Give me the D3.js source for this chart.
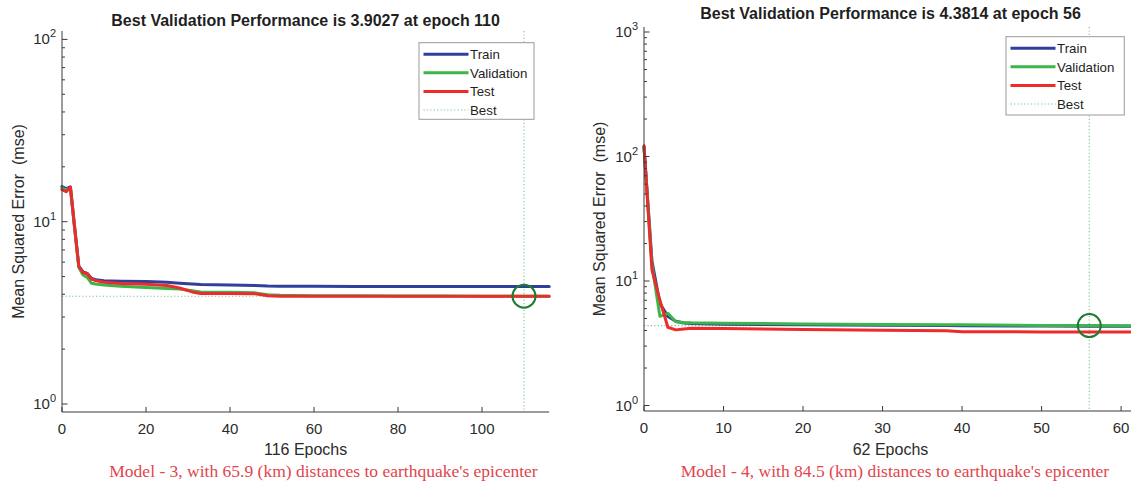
<!DOCTYPE html>
<html>
<head>
<meta charset="utf-8">
<script src="https://cdn.jsdelivr.net/npm/d3@7"></script>
<style>
  html, body { margin: 0; padding: 0; background: #ffffff; }
  svg { display: block; }
</style>
</head>
<body>
<svg id="chart" width="1131" height="485"></svg>
<script>
// ---- Model 3 training record (left panel) ----
const m3Epochs     = [0, 1, 2, 3, 4, 5, 6, 7, 8, 10, 14, 20, 25, 28, 31, 33, 40, 46, 49, 52, 60, 70, 80, 90, 100, 110, 116];
const m3Train      = [15.6, 15.2, 15.5, 9.4, 5.7, 5.3, 5.2, 4.9, 4.8, 4.75, 4.72, 4.7, 4.65, 4.6, 4.55, 4.52, 4.5, 4.47, 4.44, 4.43, 4.42, 4.41, 4.41, 4.41, 4.41, 4.41, 4.41];
const m3Validation = [15.3, 15.0, 15.3, 9.2, 5.6, 5.1, 4.95, 4.6, 4.55, 4.5, 4.42, 4.36, 4.3, 4.27, 4.18, 4.12, 4.1, 4.07, 3.98, 3.95, 3.93, 3.92, 3.91, 3.91, 3.905, 3.9027, 3.9027];
const m3Test       = [15.0, 14.6, 15.5, 9.3, 5.7, 5.25, 5.2, 4.85, 4.75, 4.65, 4.58, 4.54, 4.47, 4.33, 4.12, 4.04, 4.04, 4.03, 3.92, 3.9, 3.9, 3.9, 3.9, 3.9, 3.9, 3.9, 3.9];
const m3BestEpoch  = 110;
const m3BestValue  = 3.9027;
const m3TotalEpochs = 116;
const m3XTicks     = [0, 20, 40, 60, 80, 100];
const m3YDecades   = [1, 10, 100];

// ---- Model 4 training record (right panel) ----
const m4Epochs     = [0, 1, 2, 3, 4, 5, 6, 10, 20, 30, 38, 40, 50, 56, 62];
const m4Train      = [120, 14.5, 6.6, 5.2, 4.75, 4.6, 4.55, 4.5, 4.45, 4.42, 4.39, 4.38, 4.35, 4.34, 4.33];
const m4Validation = [118, 13.5, 5.2, 5.5, 4.7, 4.65, 4.62, 4.58, 4.52, 4.48, 4.46, 4.45, 4.4, 4.3814, 4.38];
const m4Test       = [122, 12.3, 7.0, 4.25, 4.05, 4.12, 4.18, 4.15, 4.08, 4.02, 3.99, 3.92, 3.9, 3.9, 3.9];
const m4BestEpoch  = 56;
const m4BestValue  = 4.3814;
const m4TotalEpochs = 62;
const m4XTicks     = [0, 10, 20, 30, 40, 50, 60];
const m4YDecades   = [1, 10, 100, 1000];

const legendNames  = ["Train", "Validation", "Test", "Best"];
const captions     = [
  "Model - 3, with 65.9 (km) distances to earthquake's epicenter",
  "Model - 4, with 84.5 (km) distances to earthquake's epicenter"
];

const COLORS = { Train: "#2f3f9c", Validation: "#3cb54a", Test: "#ee2b2b", Best: "#7cc487" };
const AXIS = "#3a3a3a";
const SANS = "'Liberation Sans', Arial, Helvetica, sans-serif";
const SERIF = "'Liberation Serif', 'Times New Roman', serif";

const svg = d3.select("#chart");

function drawPanel(p) {
  const g = svg.append("g");

  const x = d3.scaleLinear().domain([0, p.totalEpochs]).range([p.left, p.right]);
  const y = d3.scaleLog().domain([p.yDecades[0], p.yDecades[p.yDecades.length - 1]]).range([p.yLow, p.yHigh]);

  // best-performance guide lines (drawn under the curves)
  g.append("line")
    .attr("x1", x(0)).attr("x2", x(p.totalEpochs))
    .attr("y1", y(p.bestValue)).attr("y2", y(p.bestValue))
    .attr("stroke", COLORS.Best).attr("stroke-width", 1.1).attr("stroke-dasharray", "1.2,2.2");
  g.append("line")
    .attr("x1", x(p.bestEpoch)).attr("x2", x(p.bestEpoch))
    .attr("y1", p.top).attr("y2", p.bottom)
    .attr("stroke", COLORS.Best).attr("stroke-width", 1.1).attr("stroke-dasharray", "1.2,2.2");

  // performance curves
  const line = d3.line().x(d => x(d[0])).y(d => y(d[1]));
  [["Train", p.train], ["Validation", p.validation], ["Test", p.test]].forEach(([name, vals]) => {
    g.append("path")
      .datum(p.epochs.map((e, i) => [e, vals[i]]))
      .attr("d", line)
      .attr("fill", "none")
      .attr("stroke", COLORS[name])
      .attr("stroke-width", 3)
      .attr("stroke-linejoin", "round")
      .attr("stroke-linecap", "round");
  });

  // best point marker
  g.append("circle")
    .attr("cx", x(p.bestEpoch)).attr("cy", y(p.bestValue)).attr("r", 11.5)
    .attr("fill", "none").attr("stroke", "#1f7a33").attr("stroke-width", 2);

  // axis lines
  g.append("line").attr("x1", p.left).attr("x2", p.left).attr("y1", p.top).attr("y2", p.bottom)
    .attr("stroke", AXIS).attr("stroke-width", 1);
  g.append("line").attr("x1", p.left).attr("x2", p.right).attr("y1", p.bottom).attr("y2", p.bottom)
    .attr("stroke", AXIS).attr("stroke-width", 1);

  // x ticks (inward) and labels
  p.xTicks.forEach(t => {
    g.append("line").attr("x1", x(t)).attr("x2", x(t)).attr("y1", p.bottom).attr("y2", p.bottom - 5)
      .attr("stroke", AXIS).attr("stroke-width", 1);
    g.append("text").attr("x", x(t)).attr("y", p.bottom + 21.5)
      .attr("text-anchor", "middle").attr("font-family", SANS).attr("font-size", 15)
      .attr("fill", "#2b2b2b").text(t);
  });

  // y ticks: decades plus minor log ticks
  const minor = [];
  for (let i = 0; i < p.yDecades.length - 1; i++) {
    for (let k = 2; k <= 9; k++) minor.push(p.yDecades[i] * k);
  }
  minor.forEach(v => {
    g.append("line").attr("x1", p.left).attr("x2", p.left + 3).attr("y1", y(v)).attr("y2", y(v))
      .attr("stroke", AXIS).attr("stroke-width", 1);
  });
  p.yDecades.forEach(v => {
    g.append("line").attr("x1", p.left).attr("x2", p.left + 5.5).attr("y1", y(v)).attr("y2", y(v))
      .attr("stroke", AXIS).attr("stroke-width", 1);
    const exp = Math.round(Math.log10(v));
    const t = g.append("text").attr("x", p.left - 6).attr("y", y(v) + 5)
      .attr("text-anchor", "end").attr("font-family", SANS).attr("font-size", 15).attr("fill", "#2b2b2b");
    t.append("tspan").text("10");
    t.append("tspan").attr("dy", -7).attr("font-size", 11).text(exp);
  });

  // title
  g.append("text").attr("x", (p.left + p.right) / 2).attr("y", p.titleY)
    .attr("text-anchor", "middle").attr("font-family", SANS).attr("font-size", 16)
    .attr("font-weight", "bold").attr("fill", "#1f1f1f")
    .text(`Best Validation Performance is ${p.bestValue.toFixed(4)} at epoch ${p.bestEpoch}`);

  // axis labels
  g.append("text")
    .attr("transform", `translate(${p.yLabelX},${(p.top + p.bottom) / 2}) rotate(-90)`)
    .attr("text-anchor", "middle").attr("dy", "0.35em")
    .attr("font-family", SANS).attr("font-size", 16).attr("fill", "#2b2b2b")
    .attr("xml:space", "preserve").style("white-space", "pre")
    .text("Mean Squared Error  (mse)");
  g.append("text").attr("x", (p.left + p.right) / 2).attr("y", 455)
    .attr("text-anchor", "middle").attr("font-family", SANS).attr("font-size", 16).attr("fill", "#2b2b2b")
    .text(`${p.totalEpochs} Epochs`);

  // caption
  g.append("text").attr("x", p.captionX).attr("y", 477)
    .attr("text-anchor", "middle").attr("font-family", SERIF).attr("font-size", 17.5).attr("fill", "#e2444c")
    .text(p.caption);

  // legend
  const L = p.legend;
  const lg = g.append("g");
  lg.append("rect").attr("x", L.x).attr("y", L.y).attr("width", L.w).attr("height", L.h)
    .attr("fill", "#ffffff").attr("stroke", "#9a9a9a").attr("stroke-width", 1);
  legendNames.forEach((name, i) => {
    const ry = L.y + 11.5 + i * 18.6;
    const ln = lg.append("line").attr("x1", L.x + 4.5).attr("x2", L.x + 49.5).attr("y1", ry).attr("y2", ry)
      .attr("stroke", COLORS[name]);
    if (name === "Best") ln.attr("stroke-width", 1.1).attr("stroke-dasharray", "1.2,2.2");
    else ln.attr("stroke-width", 3);
    lg.append("text").attr("x", L.x + 51).attr("y", ry + 4.7)
      .attr("font-family", SANS).attr("font-size", 13.3).attr("fill", "#1f1f1f").text(name);
  });
}

drawPanel({
  epochs: m3Epochs, train: m3Train, validation: m3Validation, test: m3Test,
  bestEpoch: m3BestEpoch, bestValue: m3BestValue, totalEpochs: m3TotalEpochs,
  xTicks: m3XTicks, yDecades: m3YDecades,
  left: 62, right: 549.2, top: 31, bottom: 412, yLow: 404, yHigh: 39.4,
  titleY: 26, yLabelX: 18.5, captionX: 323.5,
  legend: { x: 419, y: 42.7, w: 115, h: 76.6 },
  caption: captions[0]
});

drawPanel({
  epochs: m4Epochs, train: m4Train, validation: m4Validation, test: m4Test,
  bestEpoch: m4BestEpoch, bestValue: m4BestValue, totalEpochs: m4TotalEpochs,
  xTicks: m4XTicks, yDecades: m4YDecades,
  left: 644, right: 1137, top: 27, bottom: 411, yLow: 405.5, yHigh: 32,
  titleY: 18.5, yLabelX: 599.5, captionX: 895,
  legend: { x: 1006, y: 36.7, w: 118.3, h: 78.3 },
  caption: captions[1]
});
</script>
</body>
</html>
